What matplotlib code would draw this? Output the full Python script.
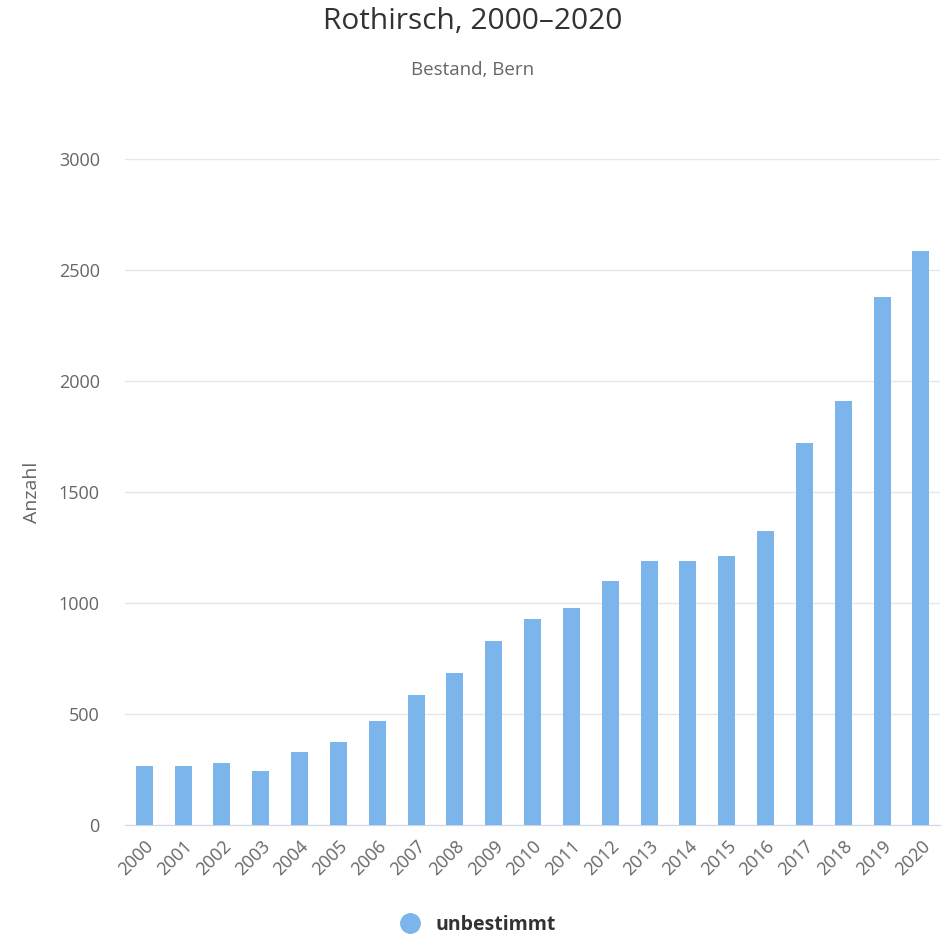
import matplotlib.pyplot as plt
from matplotlib.lines import Line2D

# Data
years = [str(y) for y in range(2000, 2021)]
anzahl = [266, 266, 281, 245, 331, 373, 467, 586, 685, 828, 927,
          976, 1098, 1191, 1191, 1212, 1325, 1723, 1909, 2380, 2586]
yticks = [0, 500, 1000, 1500, 2000, 2500, 3000]

plt.rcParams["font.family"] = ["Open Sans", "DejaVu Sans"]

fig = plt.figure(figsize=(9.46, 9.36), dpi=100)
ax = fig.add_axes([0.132, 0.1186, 0.862, 0.7115])

ax.bar(range(len(years)), anzahl, width=0.44, color="#7cb5ec", zorder=3)

ax.set_xlim(-0.5, len(years) - 0.5)
ax.set_ylim(0, 3000)
ax.set_yticks(yticks)
ax.set_yticklabels([str(t) for t in yticks], fontsize=13, color="#666666")
ax.set_xticks(range(len(years)))
ax.set_xticklabels(years, rotation=45, ha="right", rotation_mode="anchor",
                   fontsize=13, color="#666666")
ax.tick_params(axis="both", length=0)
ax.tick_params(axis="y", pad=18)
ax.tick_params(axis="x", pad=9)

ax.grid(axis="y", color="#e6e6e6", linewidth=1, zorder=0)
for s in ["top", "right", "left"]:
    ax.spines[s].set_visible(False)
ax.spines["bottom"].set_color("#ccd6eb")

ax.set_ylabel("Anzahl", fontsize=14, color="#666666", labelpad=13)

fig.text(0.5, 0.977, "Rothirsch, 2000\u20132020", ha="center", va="center",
         fontsize=21.5, color="#333333")
fig.text(0.5, 0.925, "Bestand, Bern", ha="center", va="center",
         fontsize=13.5, color="#666666")

handle = Line2D([], [], marker="o", linestyle="none", markersize=14,
                color="#7cb5ec")
leg = fig.legend([handle], ["unbestimmt"], loc="center",
                 bbox_to_anchor=(0.5, 0.012), frameon=False,
                 handletextpad=0.3, prop={"weight": "bold", "size": 14})
for t in leg.get_texts():
    t.set_color("#333333")

fig.savefig("out.png", dpi=100)
